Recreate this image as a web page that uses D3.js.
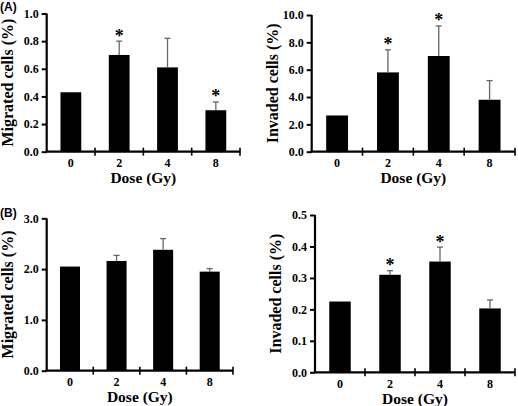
<!DOCTYPE html>
<html><head><meta charset="utf-8">
<script src="https://cdn.jsdelivr.net/npm/d3@7"></script>
<style>html,body{margin:0;padding:0;background:#fff;}svg{display:block;}</style>
</head><body>
<script>
const doses = ["0", "2", "4", "8"];
// Panel A left: migrated
const migA = [0.43, 0.70, 0.61, 0.30];
const migAErr = [null, 0.80, 0.82, 0.36];
const migASig = [false, true, false, true];
// Panel A right: invaded
const invA = [2.65, 5.8, 7.0, 3.8];
const invAErr = [null, 7.45, 9.2, 5.2];
const invASig = [false, true, true, false];
// Panel B left: migrated
const migB = [2.05, 2.16, 2.38, 1.95];
const migBErr = [null, 2.27, 2.60, 2.01];
const migBSig = [false, false, false, false];
// Panel B right: invaded
const invB = [0.225, 0.31, 0.352, 0.203];
const invBErr = [null, 0.323, 0.398, 0.230];
const invBSig = [false, true, true, false];
const ticksMigA = [0, 0.2, 0.4, 0.6, 0.8, 1.0];
const ticksInvA = [0, 2, 4, 6, 8, 10];
const ticksMigB = [0, 1, 2, 3];
const ticksInvB = [0, 0.1, 0.2, 0.3, 0.4, 0.5];

const W = 518, H = 406;
const svg = d3.select("body").append("svg").attr("width", W).attr("height", H);
const serif = "'Liberation Serif','Times New Roman',serif";

function panel(cfg) {
  const {x0, x1, yb, yt, max, values, errs, sig, ticks, ylabel} = cfg;
  const x = d3.scaleBand().domain(doses).range([x0, x1]).paddingInner(0).paddingOuter(0);
  const y = d3.scaleLinear().domain([0, max]).range([yb, yt]);
  const g = svg.append("g");
  const bw = x.bandwidth() * 0.43;
  g.selectAll("rect.bar").data(values).join("rect")
    .attr("x", (d, i) => x(doses[i]) + x.bandwidth() / 2 - bw / 2)
    .attr("y", d => y(d)).attr("width", bw).attr("height", d => yb - y(d))
    .attr("fill", "#000");
  values.forEach((v, i) => {
    const e = errs[i];
    if (e == null) return;
    const cx = x(doses[i]) + x.bandwidth() / 2;
    g.append("line").attr("x1", cx).attr("x2", cx).attr("y1", y(v)).attr("y2", y(e))
      .attr("stroke", "#666").attr("stroke-width", 1.3);
    g.append("line").attr("x1", cx - 3).attr("x2", cx + 3).attr("y1", y(e)).attr("y2", y(e))
      .attr("stroke", "#666").attr("stroke-width", 1.3);
  });
  values.forEach((v, i) => {
    if (!sig[i]) return;
    const top = errs[i] != null ? errs[i] : v;
    const cx = x(doses[i]) + x.bandwidth() / 2;
    g.append("text").attr("x", cx).attr("y", y(top) + 0.5).attr("text-anchor", "middle")
      .attr("font-family", serif).attr("font-weight", "bold").attr("font-size", 18)
      .attr("fill", "#000").text("*");
  });
  const fmt = d3.format(".1f");
  const ya = g.append("g").attr("transform", `translate(${x0},0)`)
    .call(d3.axisLeft(y).tickValues(ticks).tickFormat(fmt).tickSize(5).tickPadding(3));
  ya.select(".domain").attr("stroke", "#000").attr("stroke-width", 2.2).attr("d", `M0,${yb}V${yt}`);
  ya.selectAll(".tick line").attr("stroke", "#000").attr("stroke-width", 2);
  ya.selectAll(".tick text").attr("font-family", serif).attr("font-weight", "bold")
    .attr("font-size", 12).attr("fill", "#000");
  g.append("line").attr("x1", x0 - 1).attr("x2", x1).attr("y1", yb).attr("y2", yb)
    .attr("stroke", "#000").attr("stroke-width", 2.2);
  doses.forEach((d, i) => {
    if (i === 0) return;
    g.append("line").attr("x1", x(d)).attr("x2", x(d)).attr("y1", yb - 4).attr("y2", yb + 4)
      .attr("stroke", "#000").attr("stroke-width", 1.6);
  });
  g.append("line").attr("x1", x1).attr("x2", x1).attr("y1", yb - 4).attr("y2", yb + 4)
    .attr("stroke", "#000").attr("stroke-width", 1.6);
  g.selectAll("text.xl").data(doses).join("text").attr("class", "xl")
    .attr("x", d => x(d) + x.bandwidth() / 2).attr("y", yb + 15.5).attr("text-anchor", "middle")
    .attr("font-family", serif).attr("font-weight", "bold").attr("font-size", 12).text(d => d);
  g.append("text").attr("x", (x0 + x1) / 2).attr("y", yb + 31.5).attr("text-anchor", "middle")
    .attr("font-family", serif).attr("font-weight", "bold").attr("font-size", 15.5).text("Dose (Gy)");
  g.append("text").attr("transform", `translate(${x0 - 34},${(yb + yt) / 2}) rotate(-90)`)
    .attr("text-anchor", "middle").attr("font-family", serif).attr("font-weight", "bold")
    .attr("font-size", 16).text(ylabel);
}

panel({x0: 46.7, x1: 240, yb: 151.7, yt: 13.5, max: 1.0, values: migA, errs: migAErr, sig: migASig, ticks: ticksMigA, ylabel: "Migrated cells (%)"});
panel({x0: 311.7, x1: 515, yb: 151.7, yt: 15, max: 10, values: invA, errs: invAErr, sig: invASig, ticks: ticksInvA, ylabel: "Invaded cells (%)"});
panel({x0: 46.7, x1: 233, yb: 370.7, yt: 218.3, max: 3.0, values: migB, errs: migBErr, sig: migBSig, ticks: ticksMigB, ylabel: "Migrated cells (%)"});
panel({x0: 315, x1: 515, yb: 372.3, yt: 215, max: 0.5, values: invB, errs: invBErr, sig: invBSig, ticks: ticksInvB, ylabel: "Invaded cells (%)"});

svg.append("text").attr("x", 0).attr("y", 11).attr("font-family", "'Liberation Sans',Arial,sans-serif")
  .attr("font-weight", "bold").attr("font-size", 12).text("(A)");
svg.append("text").attr("x", 0).attr("y", 217).attr("font-family", "'Liberation Sans',Arial,sans-serif")
  .attr("font-weight", "bold").attr("font-size", 12).text("(B)");
</script>
</body></html>
